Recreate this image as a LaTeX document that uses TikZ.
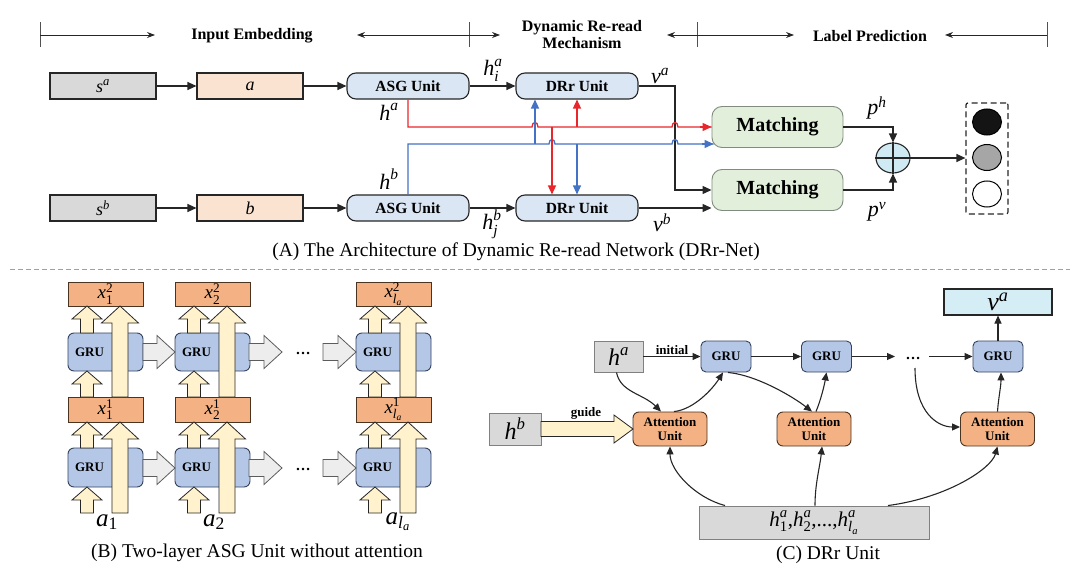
\documentclass[tikz,border=0pt]{standalone}
\usepackage{amsmath}
\usepackage{fontspec}
\setmainfont{Liberation Serif}
\usetikzlibrary{arrows.meta,shapes.geometric}
\newcommand{\mv}[1]{\textit{#1}}
\newcommand{\uq}[1]{\textup{#1}}
\definecolor{lineK}{HTML}{262626}
\definecolor{grayBG}{HTML}{D9D9D9}
\definecolor{peachBG}{HTML}{FBE3D2}
\definecolor{unitBG}{HTML}{DAE6F4}
\definecolor{matchBG}{HTML}{E2EFDA}
\definecolor{matchLN}{HTML}{808C80}
\definecolor{redL}{HTML}{E8262B}
\definecolor{blueL}{HTML}{4472C4}
\definecolor{plusBG}{HTML}{CFEAF3}
\definecolor{gruBG}{HTML}{B4C7E7}
\definecolor{gruLN}{HTML}{34425E}
\definecolor{oraBG}{HTML}{F4B183}
\definecolor{oraLN}{HTML}{4A3420}
\definecolor{creamBG}{HTML}{FFF2CC}
\definecolor{gblkBG}{HTML}{EDEDED}
\definecolor{vaBG}{HTML}{D5EEF6}
\definecolor{sepL}{HTML}{A0A0A0}
\newcommand{\vblk}[7][]{\draw[blk,#1] ({#2-#5},#3) -- ({#2-#5},{#4+#7}) -- ({#2-#6},{#4+#7}) -- (#2,#4) -- ({#2+#6},{#4+#7}) -- ({#2+#5},{#4+#7}) -- ({#2+#5},#3) -- cycle;}
\newcommand{\hblk}[7][]{\draw[gblk,#1] (#2,{#4-#5}) -- ({#3-#7},{#4-#5}) -- ({#3-#7},{#4-#6}) -- (#3,#4) -- ({#3-#7},{#4+#6}) -- ({#3-#7},{#4+#5}) -- (#2,{#4+#5}) -- cycle;}
\begin{document}
\begin{tikzpicture}[x=1pt,y=-1pt,
  box/.style={draw=lineK,line width=1.1pt,inner sep=0pt,anchor=center},
  sbox/.style={box,fill=grayBG,minimum width=106pt,minimum height=26pt,font=\fontsize{18}{20}\selectfont},
  ebox/.style={box,fill=peachBG,minimum width=106pt,minimum height=26pt,font=\fontsize{18}{20}\selectfont},
  unit/.style={box,fill=unitBG,rounded corners=9pt,minimum width=122pt,minimum height=26pt,font=\bfseries\fontsize{15.5}{17}\selectfont},
  match/.style={draw=matchLN,line width=0.9pt,fill=matchBG,rounded corners=10pt,minimum width=131pt,minimum height=41pt,inner sep=0pt,font=\bfseries\fontsize{20}{22}\selectfont},
  hdr/.style={inner sep=0pt,font=\bfseries\fontsize{16}{17}\selectfont},
  lab/.style={inner sep=0pt,font=\fontsize{22}{24}\selectfont},
  captxt/.style={inner sep=0pt,font=\fontsize{19.5}{22}\selectfont},
  arr/.style={draw=lineK,line width=1.2pt,-{Triangle[length=9pt,width=8pt]}},
  harr/.style={draw=lineK,line width=0.8pt,-{Stealth[length=8pt,width=6pt]}},
  tickln/.style={draw=lineK!80,line width=0.6pt},
  redl/.style={draw=redL,line width=1.3pt},
  bluel/.style={draw=blueL,line width=1.3pt},
  redarr/.style={redl,-{Triangle[length=9pt,width=8pt]}},
  bluearr/.style={bluel,-{Triangle[length=9pt,width=8pt]}},
  xbox/.style={box,draw=oraLN,line width=0.9pt,fill=oraBG,minimum width=75pt,font=\fontsize{19}{21}\selectfont},
  grub/.style={box,draw=gruLN,line width=0.9pt,fill=gruBG,rounded corners=6pt,text width=61pt,inner xsep=7pt,align=left,font=\bfseries\fontsize{13}{15}\selectfont},
  blk/.style={draw=lineK,line width=0.8pt,fill=creamBG,line join=miter},
  gblk/.style={draw=lineK!75,line width=0.8pt,fill=gblkBG,line join=miter},
  cgray/.style={box,draw=black!50,line width=0.9pt,fill=grayBG},
  cgru/.style={box,draw=gruLN,line width=0.9pt,fill=gruBG,rounded corners=5pt,minimum width=50pt,minimum height=31pt,font=\bfseries\fontsize{13}{15}\selectfont},
  catt/.style={box,draw=oraLN,line width=0.9pt,fill=oraBG,rounded corners=6pt,minimum width=74pt,minimum height=34pt,align=center,font=\bfseries\fontsize{13}{14.5}\selectfont},
  carr/.style={draw=lineK,line width=1.1pt,-{Triangle[length=8pt,width=7pt]}},
  smalltxt/.style={inner sep=0pt,font=\bfseries\fontsize{13}{15}\selectfont}
]
\useasboundingbox (0,0) rectangle (1080,583);

% ---------------- header ----------------
\coordinate (k1) at (40,35);
\coordinate (k2) at (469,35);
\coordinate (k3) at (697,35);
\coordinate (k4) at (1047,35);
\coordinate (e1) at (155,35);
\coordinate (e2) at (357,35);
\coordinate (e3) at (500,35);
\coordinate (e4) at (667,35);
\coordinate (e5) at (794,35);
\coordinate (e6) at (945,35);
\foreach \k in {k1,k2,k3,k4}{\draw[tickln] ([yshift=-12pt]\k) -- ([yshift=13pt]\k);}
\draw[harr] (k1) -- (e1);
\draw[harr] (k2) -- (e2);
\draw[harr] (k2) -- (e3);
\draw[harr] (k3) -- (e4);
\draw[harr] (k3) -- (e5);
\draw[harr] (k4) -- (e6);
\node[hdr] (hIE) at (252,36) {Input Embedding};
\node[hdr,align=center] (hDR) at (582,34.5) {Dynamic Re-read\\Mechanism};
\node[hdr] (hLP) at (870,36) {Label Prediction};

% ---------------- part A ----------------
\node[sbox] (sa) at (103,86) {$\mv{s}^{\mv{a}}$};
\node[ebox] (ea) at (250,86) {$\mv{a}$};
\node[unit] (asga) at (408,86) {ASG Unit};
\node[unit] (dra) at (577,86) {DRr Unit};
\node[sbox] (sb) at (103,208) {$\mv{s}^{\mv{b}}$};
\node[ebox] (eb) at (250,208) {$\mv{b}$};
\node[unit] (asgb) at (408,208) {ASG Unit};
\node[unit] (drb) at (577,208) {DRr Unit};
\node[match] (m1) at (777.5,127) {Matching};
\node[match] (m2) at (777.5,190) {Matching};

\draw[arr] (sa) -- (ea);
\draw[arr] (ea) -- (asga);
\draw[arr] (asga) -- (dra);
\draw[arr] (sb) -- (eb);
\draw[arr] (eb) -- (asgb);
\draw[arr] (asgb) -- (drb);

\coordinate (vx) at (675,0);
\coordinate (rY) at (0,127);
\coordinate (bY) at (0,144);
\coordinate (rdx) at (552,0);
\coordinate (bux) at (535,0);

\draw[arr] (dra.east) -- (dra.east -| vx) -- (vx |- m2.west) -- (m2.west);
\draw[arr] (drb.east) -- (drb.east -| m2.west);

% red path
\draw[redl] (asga.south) -- (asga.south |- rY) -- (532,127) .. controls (532,121) and (538,121) .. (538,127) -- (672,127) .. controls (672,121) and (678,121) .. (678,127) -- (m1.west);
\draw[redarr] (m1.west) ++(-12,0) -- (m1.west);
% blue path
\draw[bluel] (asgb.north) -- (asgb.north |- bY) -- (549,144) .. controls (549,138) and (555,138) .. (555,144) -- (672,144) .. controls (672,138) and (678,138) .. (678,144) -- ([xshift=2pt]m1.west |- bY);
\draw[bluearr] ([xshift=-10pt]m1.west |- bY) -- ([xshift=2pt]m1.west |- bY);
% branches
\draw[redarr] (dra.south |- rY) -- (dra.south);
\draw[redarr] (rdx |- rY) -- (rdx |- drb.north);
\draw[bluearr] (bux |- bY) -- (bux |- dra.south);
\draw[bluearr] (drb.north |- bY) -- (drb.north);

% combination
\node[ellipse,draw=lineK,line width=1.1pt,fill=plusBG,minimum width=34pt,minimum height=30pt,inner sep=0pt] (plus) at (893,158) {};
\draw[lineK,line width=1.1pt] (plus.north) -- (plus.south) (plus.west) -- (plus.east);
\draw[arr] (m1.east) -- (m1.east -| plus.north) -- (plus.north);
\draw[arr] (m2.east) -- (m2.east -| plus.south) -- (plus.south);
\node[draw=lineK,dashed,dash pattern=on 6pt off 3.5pt,line width=1.2pt,rounded corners=2pt,minimum width=42pt,minimum height=111pt,inner sep=0pt] (outb) at (987,158.5) {};
\draw[arr] (plus.east) -- (plus.east -| outb.west);
\node[ellipse,draw=black,line width=1pt,fill=black!92,minimum width=29pt,minimum height=26pt,inner sep=0pt] (c1) at (987,122) {};
\node[ellipse,draw=black,line width=1pt,fill=black!35,minimum width=29pt,minimum height=26pt,inner sep=0pt] (c2) at (987,157.5) {};
\node[ellipse,draw=black,line width=1pt,fill=white,minimum width=29pt,minimum height=26pt,inner sep=0pt] (c3) at (987,194) {};

% labels A
\node[lab] (lhia) at (493,70) {$\mv{h}^{\mv{a}}_{\mv{i}}$};
\node[lab] (lha) at (389,112) {$\mv{h}^{\mv{a}}$};
\node[lab] (lhb) at (389,179) {$\mv{h}^{\mv{b}}$};
\node[lab] (lhjb) at (492,224) {$\mv{h}^{\mv{b}}_{\mv{j}}$};
\node[lab] (lva) at (660,76) {$\mv{v}^{\mv{a}}$};
\node[lab] (lvb) at (662,223) {$\mv{v}^{\mv{b}}$};
\node[lab] (lph) at (877,108) {$\mv{p}^{\mv{h}}$};
\node[lab] (lpv) at (877,212) {$\mv{p}^{\mv{v}}$};

\node[captxt,anchor=base] (capA) at (516,256) {(A) The Architecture of Dynamic Re-read Network (DRr-Net)};

% separator
\coordinate (sp1) at (10,269);
\coordinate (sp2) at (1070,269);
\draw[sepL,line width=1pt,dash pattern=on 5pt off 3pt] (sp1) -- (sp2);

% ---------------- part B ----------------
\foreach \L/\nm/\sub in {68/1/{\uq{1}},175/2/{\uq{2}},356/3/{\mv{l}_{\mv{a}}}}{
  \node[grub,minimum height=38pt] (gu\nm) at ({\L+37.5},352) {GRU};
  \node[grub,minimum height=39pt] (gl\nm) at ({\L+37.5},467.5) {GRU};
  \node[xbox,minimum height=24pt] (xt\nm) at ({\L+37.5},294) {$\mv{x}^{\uq{2}}_{\sub}$};
  \node[xbox,minimum height=25pt] (xb\nm) at ({\L+37.5},409.5) {$\mv{x}^{\uq{1}}_{\sub}$};
  \vblk{\L+19}{513}{487}{6.5}{15}{13}
  \vblk{\L+19}{448}{422}{6.5}{15}{13}
  \vblk{\L+19}{397}{371}{6.5}{15}{13}
  \vblk{\L+19}{333}{306}{6.5}{15}{13}
  \vblk{\L+52}{513}{422}{8}{18.5}{17}
  \vblk{\L+52}{397}{306}{8}{18.5}{17}
}
\foreach \yy in {352,468}{
  \hblk{143}{175}{\yy}{8.5}{16.5}{18}
  \hblk{249}{282}{\yy}{8.5}{16.5}{18}
  \hblk{323}{356}{\yy}{8.5}{16.5}{18}
}
\node[smalltxt,anchor=base,font=\bfseries\fontsize{15}{17}\selectfont] (dB1) at (303,354) {…};
\node[smalltxt,anchor=base,font=\bfseries\fontsize{15}{17}\selectfont] (dB2) at (303,470) {…};
\node[inner sep=0pt,font=\fontsize{25}{27}\selectfont] (la1) at (107,522) {$\mv{a}_{\uq{1}}$};
\node[inner sep=0pt,font=\fontsize{25}{27}\selectfont] (la2) at (214,522) {$\mv{a}_{\uq{2}}$};
\node[inner sep=0pt,font=\fontsize{25}{27}\selectfont] (la3) at (398,522) {$\mv{a}_{\mv{l}_{\mv{a}}}$};
\node[captxt,anchor=base] (capB) at (257,557) {(B) Two-layer ASG Unit without attention};

% ---------------- part C ----------------
\node[cgray,minimum width=49pt,minimum height=31pt,font=\fontsize{24}{26}\selectfont] (cha) at (618.5,356.5) {$\mv{h}^{\mv{a}}$};
\node[cgru] (cg1) at (726,356.5) {GRU};
\node[cgru] (cg2) at (826.5,356.5) {GRU};
\node[cgru] (cg3) at (998,356.5) {GRU};
\node[box,fill=vaBG,minimum width=108pt,minimum height=26pt,font=\fontsize{26}{28}\selectfont] (cva) at (998,302) {$\mv{v}^{\mv{a}}$};
\node[cgray,minimum width=52pt,minimum height=32pt,font=\fontsize{24}{26}\selectfont] (chb) at (515,429) {$\mv{h}^{\mv{b}}$};
\node[catt] (ca1) at (670,429) {Attention\\Unit};
\node[catt] (ca2) at (814,429) {Attention\\Unit};
\node[catt] (ca3) at (997.5,429) {Attention\\Unit};
\node[cgray,minimum width=230pt,minimum height=33pt,font=\fontsize{21}{23}\selectfont] (chal) at (814,522.5) {$\mv{h}^{\mv{a}}_{\uq{1}}\uq{,}\mv{h}^{\mv{a}}_{\uq{2}}\uq{,...,}\mv{h}^{\mv{a}}_{\mv{l}_{\mv{a}}}$};
\node[smalltxt,anchor=base,font=\bfseries\fontsize{15}{17}\selectfont] (dC) at (913,359) {…};
\coordinate (dCl) at (895,356.5);
\coordinate (dCr) at (929,356.5);
\coordinate (dCb) at (915,368);

\draw[carr] (cha) -- (cg1) node[midway,above=1.5pt,smalltxt] (tinit) {initial};
\draw[carr] (cg1) -- (cg2);
\draw[carr] (cg2) -- (dCl);
\draw[carr] (dCr) -- (cg3);
\draw[carr] (cg3) -- (cva);

\hblk[blk]{541}{633}{429}{7.5}{14}{19}
\node[smalltxt] (tguide) at (586,413) {guide};

\draw[carr] ([xshift=-2pt]cha.south) .. controls +(4,20) and +(-18,-18) .. ([xshift=-9pt]ca1.north);
\draw[carr] ([xshift=4pt]ca1.north) .. controls +(20,-2) and +(-10,16) .. ([xshift=-3pt]cg1.south);
\draw[carr] ([xshift=2pt]cg1.south) .. controls +(30,3) and +(-18,-14) .. ([xshift=-2pt]ca2.north);
\draw[carr] ([xshift=2pt]ca2.north) .. controls +(5,-12) and +(-2,12) .. (cg2.south);
\draw[carr] (dCb) .. controls +(0,45) and +(-22,0) .. ([yshift=2pt]ca3.west);
\draw[carr] (ca3.north) .. controls +(1,-14) and +(0,14) .. ([xshift=3pt]cg3.south);
\draw[carr] ([xshift=-89pt]chal.north) .. controls +(-30,-8) and +(0,24) .. (ca1.south);
\draw[carr] ([xshift=1pt]chal.north) .. controls +(0,-22) and +(-2,20) .. ([xshift=8pt]ca2.south);
\draw[carr] ([xshift=74pt]chal.north) .. controls +(60,-8) and +(-6,22) .. (ca3.south);

\node[captxt,anchor=base] (capC) at (828,559) {(C) DRr Unit};
\end{tikzpicture}
\end{document}
